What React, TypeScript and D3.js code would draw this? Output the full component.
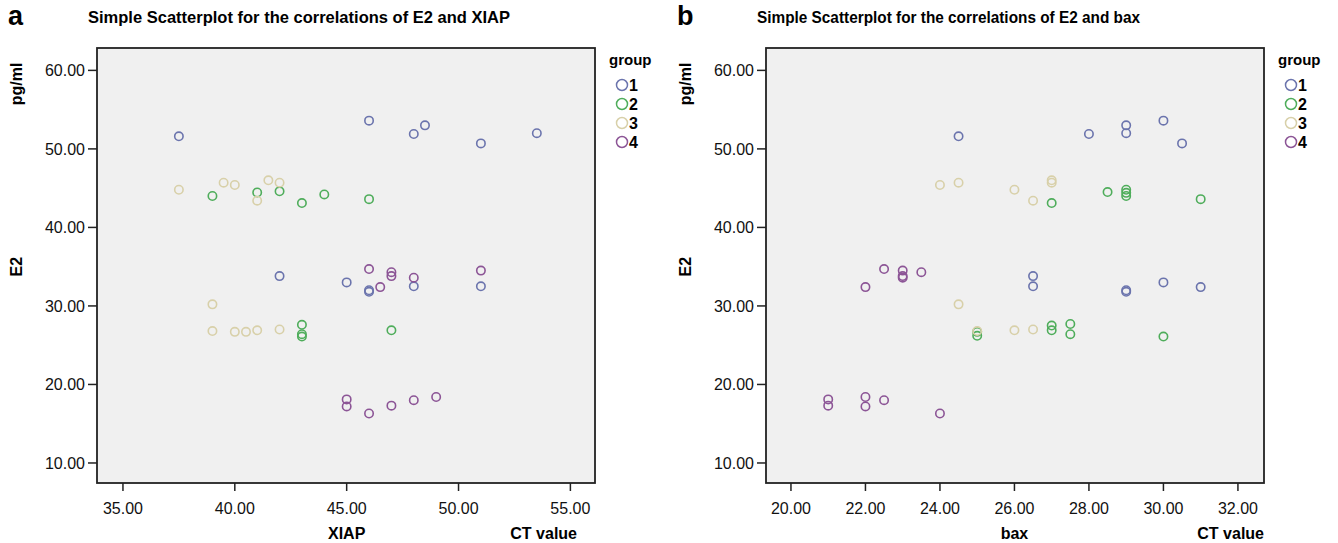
import React from "react";
import * as d3 from "d3";

// E2 (pg/ml) against CT value, one [ct, e2] pair per sample, split by group
const groups = ["1", "2", "3", "4"];
const groupColors = ["#6b74ad", "#4fad5b", "#d8d0a9", "#8c5596"];

const xiapGroup1: [number, number][] = [
	[37.5, 51.6], [46, 53.6], [48, 51.9], [48.5, 53.0], [51, 50.7], [53.5, 52.0],
	[42, 33.8], [45, 33.0], [46, 32.0], [46, 31.8], [48, 32.5], [51, 32.5]
];
const xiapGroup2: [number, number][] = [
	[39, 44.0], [41, 44.45], [42, 44.6], [43, 43.1], [44, 44.2], [46, 43.6],
	[43, 27.6], [43, 26.4], [43, 26.1], [47, 26.9]
];
const xiapGroup3: [number, number][] = [
	[37.5, 44.8], [39.5, 45.7], [40, 45.4], [41, 43.4], [41.5, 46.0], [42, 45.7],
	[39, 30.2], [39, 26.8], [40, 26.7], [40.5, 26.7], [41, 26.9], [42, 27.0]
];
const xiapGroup4: [number, number][] = [
	[45, 18.1], [45, 17.2], [46, 16.3], [47, 17.3], [48, 18.0], [49, 18.4],
	[46, 34.7], [46.5, 32.4], [47, 34.3], [47, 33.8], [48, 33.6], [51, 34.5]
];

const baxGroup1: [number, number][] = [
	[24.5, 51.6], [28, 51.9], [29, 53.0], [29, 52.0], [30, 53.6], [30.5, 50.7],
	[26.5, 33.8], [26.5, 32.5], [29, 32.0], [29, 31.8], [30, 33.0], [31, 32.4]
];
const baxGroup2: [number, number][] = [
	[27, 43.1], [28.5, 44.5], [29, 44.8], [29, 44.4], [29, 44.0], [31, 43.6],
	[25, 26.7], [25, 26.2], [27, 27.5], [27, 26.9], [27.5, 27.7], [27.5, 26.4], [30, 26.1]
];
const baxGroup3: [number, number][] = [
	[24, 45.4], [24.5, 45.7], [26, 44.8], [26.5, 43.4], [27, 46.0], [27, 45.7],
	[24.5, 30.2], [25, 26.8], [26, 26.9], [26.5, 27.0]
];
const baxGroup4: [number, number][] = [
	[21, 18.1], [21, 17.3], [22, 18.4], [22, 17.2], [22.5, 18.0], [24, 16.3],
	[22, 32.4], [22.5, 34.7], [23, 34.5], [23, 33.8], [23, 33.6], [23.5, 34.3]
];

const e2Ticks = [10, 20, 30, 40, 50, 60];
const xiapTicks = [35, 40, 45, 50, 55];
const baxTicks = [20, 22, 24, 26, 28, 30, 32];

const font = "'Liberation Sans', Arial, sans-serif";
const fmt = d3.format(".2f");

type PanelProps = {
	left: number;
	letter: string;
	title: string;
	titleWidth: number;
	xLabel: string;
	ctRight: number;
	xDomain: [number, number];
	xTicks: number[];
	series: [number, number][][];
};

function Panel({ left, letter, title, titleWidth, xLabel, ctRight, xDomain, xTicks, series }: PanelProps) {
	const plotLeft = left + 97;
	const plotRight = left + 595;
	const plotTop = 48;
	const plotBottom = 483;

	const x = d3.scaleLinear().domain(xDomain).range([plotLeft, plotRight]);
	const y = d3.scaleLinear().domain([7.45, 62.85]).range([plotBottom, plotTop]);
	const mid = xTicks[Math.floor(xTicks.length / 2)];

	return (
		<g fontFamily={font}>
			<text x={left + 8} y={25} fontSize={27} fontWeight="bold">{letter}</text>
			<text x={left + 88} y={23} fontSize={17} fontWeight="bold" textLength={titleWidth} lengthAdjust="spacingAndGlyphs">
				{title}
			</text>

			<rect x={plotLeft} y={plotTop} width={plotRight - plotLeft} height={plotBottom - plotTop}
				fill="#f0f0f0" stroke="#222" strokeWidth={1.8} />

			{e2Ticks.map((t) => (
				<g key={"y" + t}>
					<line x1={plotLeft - 9} x2={plotLeft} y1={y(t)} y2={y(t)} stroke="#222" strokeWidth={1.5} />
					<text x={plotLeft - 12} y={y(t) + 6} fontSize={16} textAnchor="end" fill="#111">{fmt(t)}</text>
				</g>
			))}
			{xTicks.map((t) => (
				<g key={"x" + t}>
					<line x1={x(t)} x2={x(t)} y1={plotBottom} y2={plotBottom + 8} stroke="#222" strokeWidth={1.5} />
					<text x={x(t)} y={514} fontSize={16} textAnchor="middle" fill="#111">{fmt(t)}</text>
				</g>
			))}

			<text transform={`translate(${left + 22},${84}) rotate(-90)`} fontSize={16} fontWeight="bold" textAnchor="middle">pg/ml</text>
			<text transform={`translate(${left + 22},${y(35)}) rotate(-90)`} fontSize={16} fontWeight="bold" textAnchor="middle">E2</text>
			<text x={x(mid)} y={539} fontSize={16} fontWeight="bold" textAnchor="middle">{xLabel}</text>
			<text x={left + ctRight} y={539} fontSize={16} fontWeight="bold" textAnchor="end">CT value</text>

			{series.map((pts, gi) =>
				pts.map((p, i) => (
					<circle key={gi + "-" + i} cx={x(p[0])} cy={y(p[1])} r={4.2} fill="none"
						stroke={groupColors[gi]} strokeWidth={1.6} />
				))
			)}

			<text x={plotRight + 14} y={65} fontSize={15} fontWeight="bold">group</text>
			{groups.map((g, i) => (
				<g key={g}>
					<circle cx={plotRight + 27} cy={85 + i * 19} r={5.5} fill="none" stroke={groupColors[i]} strokeWidth={1.5} />
					<text x={plotRight + 34} y={90.5 + i * 19} fontSize={16} fontWeight="bold">{g}</text>
				</g>
			))}
		</g>
	);
}

export default function App() {
	return (
		<svg width={1338} height={543} style={{ position: "absolute", left: 0, top: 0, background: "#fff" }}>
			<Panel left={0} letter="a" title="Simple Scatterplot for the correlations of E2 and XIAP"
				titleWidth={422} xLabel="XIAP" ctRight={577} xDomain={[33.84, 56.1]} xTicks={xiapTicks}
				series={[xiapGroup1, xiapGroup2, xiapGroup3, xiapGroup4]} />
			<Panel left={669} letter="b" title="Simple Scatterplot for the correlations of E2 and bax"
				titleWidth={383} xLabel="bax" ctRight={595} xDomain={[19.33, 32.7]} xTicks={baxTicks}
				series={[baxGroup1, baxGroup2, baxGroup3, baxGroup4]} />
		</svg>
	);
}
